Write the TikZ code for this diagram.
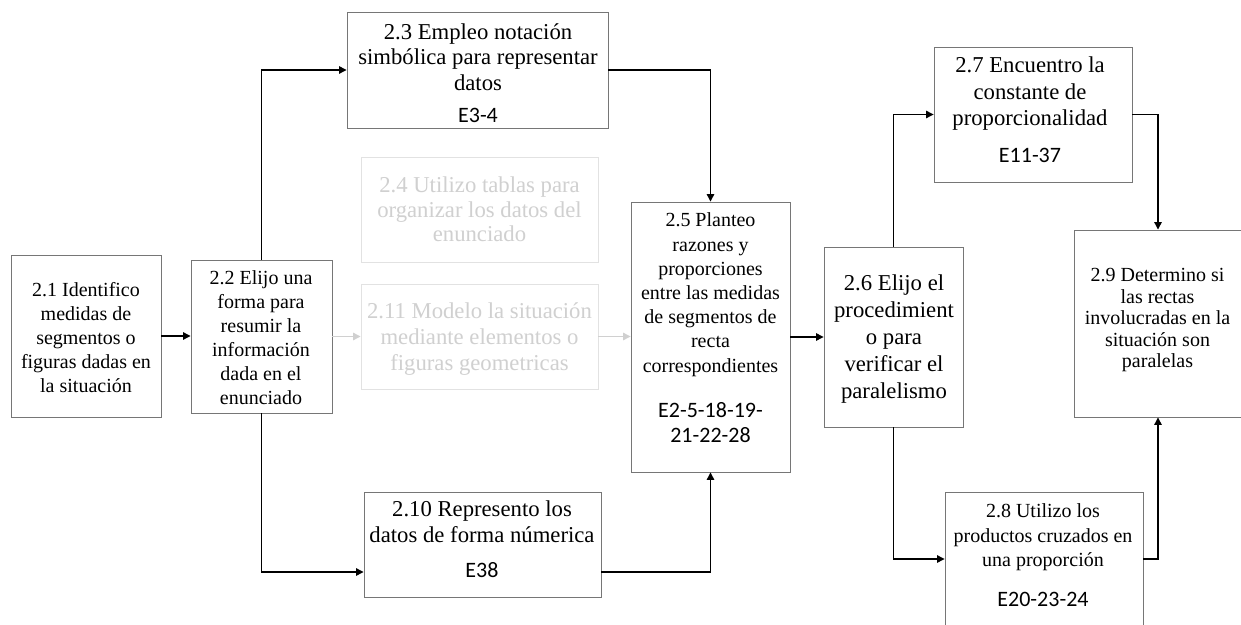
\documentclass[tikz,border=0pt]{standalone}
\usepackage{fontspec}
\setmainfont{Liberation Serif}
\newfontfamily\calibrilike{Carlito}
\usetikzlibrary{arrows.meta}
\definecolor{boxline}{HTML}{767676}
\definecolor{fadeline}{HTML}{E2E2E2}
\definecolor{fadetext}{HTML}{D0D0D0}
\newcommand\ecode{\calibrilike\fontsize{22bp}{25bp}\selectfont}
\tikzset{
  x=1bp, y=-1bp,
  stepbox/.style={draw=boxline, line width=0.9bp, inner sep=0pt},
  fadebox/.style={draw=fadeline, line width=0.9bp, inner sep=0pt},
  txt/.style 2 args={inner sep=0pt, align=center, font=\fontsize{#1}{#2}\selectfont},
  conn/.style={draw=black, line width=1.2bp, -{Triangle[length=7.5bp,width=7.5bp]}},
  fadeconn/.style={draw=fadetext, line width=1.2bp, -{Triangle[length=7.5bp,width=7.5bp]}},
}
\begin{document}
\begin{tikzpicture}
\useasboundingbox (0,0) rectangle (1241,625);
\fill[white] (0,0) rectangle (1241,625);
\clip (0,0) rectangle (1241,625);

% boxes
\node[stepbox, minimum width=150bp, minimum height=162bp] (b21) at (86,336) {};
\node[stepbox, minimum width=141bp, minimum height=153bp] (b22) at (261.5,336.5) {};
\node[stepbox, minimum width=261bp, minimum height=116bp] (b23) at (477.5,70) {};
\node[fadebox, minimum width=237bp, minimum height=105bp] (b24) at (479.5,209.5) {};
\node[fadebox, minimum width=237bp, minimum height=105bp] (b211) at (479.5,336.5) {};
\node[stepbox, minimum width=159bp, minimum height=270bp] (b25) at (710.5,337) {};
\node[stepbox, minimum width=139bp, minimum height=180bp] (b26) at (893.5,337) {};
\node[stepbox, minimum width=198bp, minimum height=135bp] (b27) at (1033,114.5) {};
\node[stepbox, minimum width=168bp, minimum height=187bp] (b29) at (1158,323.5) {};
\node[stepbox, minimum width=198bp, minimum height=134bp] (b28) at (1044,559) {};
\node[stepbox, minimum width=237bp, minimum height=105bp] (b210) at (482.5,544.5) {};

% texts
\node[txt={20bp}{24bp}] (t21) at (86,337.1)
  {2.1 Identifico\\medidas de\\segmentos o\\figuras dadas en\\la situación};
\node[txt={20bp}{24bp}] (t22) at (261,338.1)
  {2.2 Elijo una\\forma para\\resumir la\\información\\dada en el\\enunciado};
\node[txt={22.7bp}{25.5bp}] (t23) at (478,73.1)
  {2.3 Empleo notación\\simbólica para representar\\datos\\[6.5bp]{\ecode E3-4}};
\node[txt={22.7bp}{24.5bp}, text=fadetext] (t24) at (479.5,209.7)
  {2.4 Utilizo tablas para\\organizar los datos del\\enunciado};
\node[txt={22.7bp}{26bp}, text=fadetext] (t211) at (479.5,338.6)
  {2.11 Modelo la situación\\mediante elementos o\\figuras geometricas};
\node[txt={20bp}{24.2bp}] (t25) at (710.5,327.6)
  {2.5 Planteo\\razones y\\proporciones\\entre las medidas\\de segmentos de\\recta\\correspondientes\\[20.8bp]{\ecode E2-5-18-19-}\\[0.8bp]{\ecode 21-22-28}};
\node[txt={22.7bp}{27bp}] (t26) at (894,338.6)
  {2.6 Elijo el\\procedimient\\o para\\verificar el\\paralelismo};
\node[txt={22.7bp}{26.5bp}] (t27) at (1030,110.2)
  {2.7 Encuentro la\\constante de\\proporcionalidad\\[10.5bp]{\ecode E11-37}};
\node[txt={20bp}{24.5bp}] (t28) at (1043,555.6)
  {2.8 Utilizo los\\productos cruzados en\\una proporción\\[15.5bp]{\ecode E20-23-24}};
\node[txt={20bp}{21.5bp}] (t29) at (1157.5,320.3)
  {2.9 Determino si\\las rectas\\involucradas en la\\situación son\\paralelas};
\node[txt={22.7bp}{26bp}] (t210) at (482,539)
  {2.10 Represento los\\datos de forma númerica\\[9bp]{\ecode E38}};

% attachment points on box 2.10
\coordinate (p210w) at ([yshift=-27.5bp]b210.west);
\coordinate (p210e) at ([yshift=-27.5bp]b210.east);

% connectors
\draw[conn] (b21.east) -- (b21.east -| b22.west);
\draw[conn] (b22.north) |- (b23.west);
\draw[conn] (b22.south) |- (p210w);
\draw[fadeconn] (b22.east) -- (b211.west);
\draw[fadeconn] (b211.east) -- (b211.east -| b25.west);
\draw[conn] (b23.east) -| (b25.north);
\draw[conn] (p210e) -| (b25.south);
\draw[conn] (b25.east) -- (b25.east -| b26.west);
\draw[conn] (b26.north) |- (b27.west);
\draw[conn] (b26.south) |- (b28.west);
\draw[conn] (b27.east) -| (b29.north);
\draw[conn] (b28.east) -| (b29.south);
\end{tikzpicture}
\end{document}
